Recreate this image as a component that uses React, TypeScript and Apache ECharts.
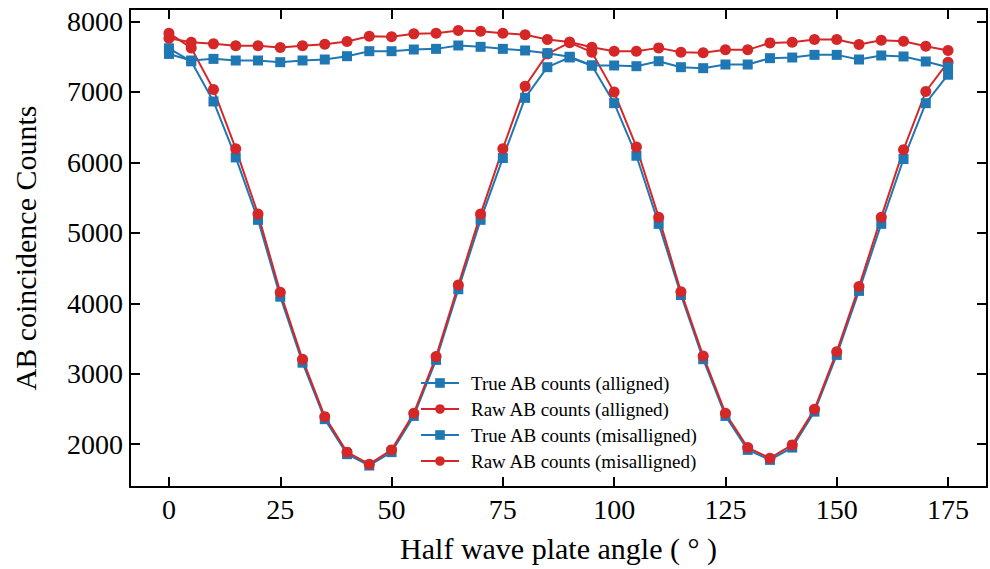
import React, { useEffect, useRef } from "react";
import * as echarts from "echarts";

const angles = [0, 5, 10, 15, 20, 25, 30, 35, 40, 45, 50, 55, 60, 65, 70, 75, 80, 85, 90, 95, 100, 105, 110, 115, 120, 125, 130, 135, 140, 145, 150, 155, 160, 165, 170, 175];

const trueAligned = [7620, 7435, 6865, 6071, 5185, 4094, 3157, 2355, 1858, 1697, 1887, 2401, 3196, 4199, 5185, 6062, 6917, 7352, 7490, 7376, 6841, 6095, 5128, 4118, 3206, 2401, 1919, 1777, 1952, 2462, 3267, 4176, 5128, 6048, 6841, 7245];

const rawAligned = [7835, 7626, 7035, 6195, 5266, 4157, 3206, 2391, 1887, 1716, 1919, 2440, 3243, 4260, 5266, 6195, 7082, 7541, 7700, 7565, 6998, 6219, 5223, 4165, 3252, 2440, 1952, 1801, 1990, 2496, 3313, 4238, 5223, 6181, 7007, 7423];

const trueMisaligned = [7540, 7447, 7470, 7447, 7447, 7423, 7447, 7461, 7508, 7579, 7579, 7603, 7612, 7660, 7641, 7612, 7589, 7551, 7500, 7376, 7376, 7366, 7437, 7352, 7338, 7390, 7390, 7480, 7489, 7527, 7527, 7461, 7518, 7504, 7433, 7350];

const rawMisaligned = [7764, 7707, 7683, 7655, 7655, 7631, 7655, 7678, 7716, 7792, 7783, 7825, 7835, 7872, 7863, 7835, 7811, 7745, 7710, 7636, 7579, 7579, 7626, 7565, 7556, 7598, 7598, 7697, 7707, 7745, 7745, 7674, 7735, 7721, 7650, 7589];

const xTicks = [0, 25, 50, 75, 100, 125, 150, 175];
const yTicks = [2000, 3000, 4000, 5000, 6000, 7000, 8000];

const seriesNames = [
  "True AB counts (alligned)",
  "Raw AB counts (alligned)",
  "True AB counts (misalligned)",
  "Raw AB counts (misalligned)",
];

const BLUE = "#1f77b4";
const RED = "#d62728";
const FONT = "Liberation Serif";

export default function App() {
  const ref = useRef<HTMLDivElement>(null);

  useEffect(() => {
    if (!ref.current) return;
    const chart = echarts.init(ref.current, null, { renderer: "svg" });

    const mk = (name: string, vals: number[], color: string, symbol: string, size: number) => ({
      name,
      type: "line",
      data: angles.map((a, i) => [a, vals[i]]),
      symbol,
      symbolSize: size,
      showSymbol: true,
      showAllSymbol: true,
      lineStyle: { color, width: 2 },
      itemStyle: { color, borderWidth: 0 },
      emphasis: { disabled: true },
    });

    const xBase = {
      type: "value",
      min: -8.75,
      max: 183.75,
      splitLine: { show: false },
      axisLine: { show: true, onZero: false, lineStyle: { color: "#000", width: 2 } },
      axisTick: { show: true, inside: true, length: 10, lineStyle: { color: "#000", width: 2 }, customValues: xTicks },
    };
    const yBase = {
      type: "value",
      min: 1392,
      max: 8178,
      splitLine: { show: false },
      axisLine: { show: true, onZero: false, lineStyle: { color: "#000", width: 2 } },
      axisTick: { show: true, inside: true, length: 10, lineStyle: { color: "#000", width: 2 }, customValues: yTicks },
    };

    chart.setOption({
      animation: false,
      backgroundColor: "#fff",
      grid: { left: 130, right: 3, top: 9, bottom: 82, containLabel: false },
      legend: {
        orient: "vertical",
        left: 420,
        top: 373,
        padding: 0,
        itemWidth: 38,
        itemHeight: 12,
        itemGap: 6,
        data: seriesNames,
        textStyle: { fontFamily: FONT, fontSize: 19, color: "#000", lineHeight: 20, padding: [0, 0, 0, 7] },
        selectedMode: false,
      },
      xAxis: [
        {
          ...xBase,
          position: "bottom",
          name: "Half wave plate angle ( ° )",
          nameLocation: "middle",
          nameGap: 46,
          nameTextStyle: { fontFamily: FONT, fontSize: 30, color: "#000" },
          axisLabel: {
            show: true,
            customValues: xTicks,
            formatter: (v: number) => String(v),
            fontFamily: FONT,
            fontSize: 28,
            color: "#000",
            margin: 8,
          },
        },
        {
          ...xBase,
          position: "top",
          axisLabel: { show: false },
        },
      ],
      yAxis: [
        {
          ...yBase,
          position: "left",
          name: "AB coincidence Counts",
          nameLocation: "middle",
          nameGap: 90,
          nameTextStyle: { fontFamily: FONT, fontSize: 30, color: "#000" },
          axisLabel: {
            show: true,
            customValues: yTicks,
            formatter: (v: number) => String(v),
            fontFamily: FONT,
            fontSize: 28,
            color: "#000",
            margin: 7,
          },
        },
        {
          ...yBase,
          position: "right",
          axisLabel: { show: false },
        },
      ],
      series: [
        mk(seriesNames[0], trueAligned, BLUE, "rect", 10),
        mk(seriesNames[1], rawAligned, RED, "circle", 11),
        mk(seriesNames[2], trueMisaligned, BLUE, "rect", 10),
        mk(seriesNames[3], rawMisaligned, RED, "circle", 11),
      ],
    });

    return () => chart.dispose();
  }, []);

  return (
    <div
      ref={ref}
      style={{ position: "fixed", left: 0, top: 0, width: 990, height: 569, background: "#fff" }}
    />
  );
}
